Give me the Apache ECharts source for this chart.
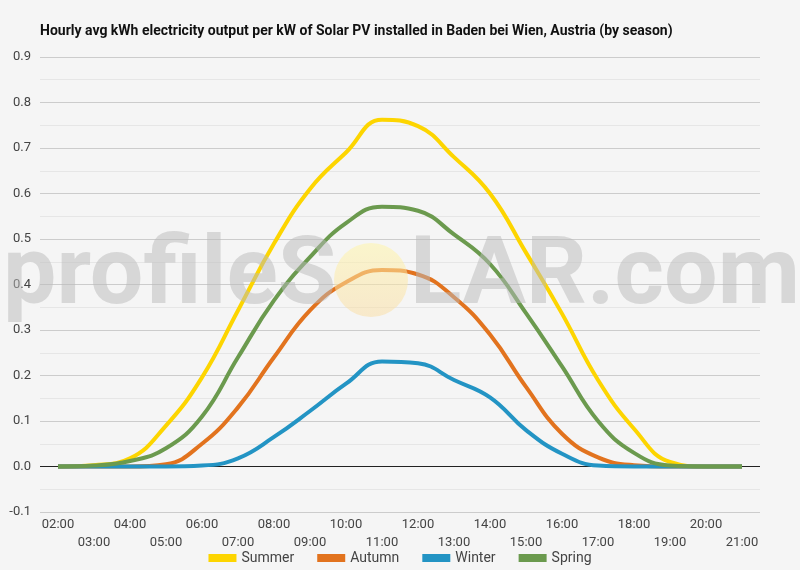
<!DOCTYPE html>
<html>
<head>
<meta charset="utf-8">
<script src="https://cdn.jsdelivr.net/npm/echarts@6/dist/echarts.min.js"></script>
<style>
  html, body { margin: 0; padding: 0; background: #f5f5f5; }
  #chart { width: 800px; height: 570px; }
</style>
</head>
<body>
<div id="chart"></div>
<script>
// hours on the x axis
const hours = ['02:00', '03:00', '04:00', '05:00', '06:00', '07:00', '08:00', '09:00', '10:00', '11:00',
  '12:00', '13:00', '14:00', '15:00', '16:00', '17:00', '18:00', '19:00', '20:00', '21:00']

// hourly avg kWh per kW
const summer = [0, 0.003, 0.018, 0.09, 0.196, 0.343, 0.49, 0.61, 0.69, 0.762,
  0.748, 0.68, 0.60, 0.47, 0.336, 0.19, 0.083, 0.01, 0, 0]
const autumn = [0, 0, 0, 0.005, 0.05, 0.13, 0.24, 0.343, 0.405, 0.432,
  0.422, 0.372, 0.29, 0.175, 0.072, 0.02, 0.003, 0, 0, 0]
const winter = [0, 0, 0, 0, 0.002, 0.018, 0.065, 0.122, 0.182, 0.231,
  0.227, 0.19, 0.152, 0.08, 0.028, 0.002, 0, 0, 0, 0]
const spring = [0, 0.002, 0.012, 0.04, 0.11, 0.24, 0.365, 0.46, 0.535, 0.571,
  0.562, 0.51, 0.445, 0.337, 0.22, 0.10, 0.03, 0.002, 0, 0]

const seriesNames = ['Summer', 'Autumn', 'Winter', 'Spring']
const seriesColors = ['#fdd500', '#e2731e', '#2394c4', '#6b9a4e']

const chart = echarts.init(document.getElementById('chart'))

const font = 'Roboto, "Noto Sans", sans-serif'

function makeSeries(name, data, color, idx) {
  const s = {
    name: name,
    type: 'line',
    data: data,
    smooth: 0.45,
    symbol: 'none',
    lineStyle: { width: 4, color: color },
    itemStyle: { color: color },
    z: 3 + idx,
  }
  // zero line (drawn once)
  if (idx === 0) {
    s.markLine = {
      silent: true,
      symbol: 'none',
      label: { show: false },
      lineStyle: { color: '#222', width: 1, type: 'solid' },
      data: [{ yAxis: 0 }],
      z: 2,
    }
  }
  return s
}

const allData = [summer, autumn, winter, spring]

chart.setOption({
  backgroundColor: '#f5f5f5',
  animation: false,
  title: {
    text: 'Hourly avg kWh electricity output per kW of Solar PV installed in Baden bei Wien, Austria (by season)',
    left: 35,
    top: 19,
    textStyle: { fontFamily: font, fontSize: 14, fontWeight: 'bold', color: '#111' },
  },
  legend: {
    top: 546,
    left: 'center',
    itemWidth: 28,
    itemHeight: 8,
    itemGap: 23,
    icon: 'rect',
    textStyle: { fontFamily: font, fontSize: 14, color: '#444' },
    data: seriesNames,
  },
  grid: { left: 40, right: 40, top: 57, bottom: 58 },
  xAxis: {
    type: 'category',
    data: hours,
    boundaryGap: true,
    axisLine: { show: false },
    axisTick: { show: false },
    axisLabel: {
      interval: 0,
      margin: 4,
      fontFamily: font,
      fontSize: 13,
      color: '#444',
      lineHeight: 18,
      formatter: (v, i) => (i % 2 === 1 ? '\n' + v : v),
    },
  },
  yAxis: {
    type: 'value',
    min: -0.1,
    max: 0.9,
    interval: 0.1,
    axisLine: { show: false },
    axisTick: { show: false },
    axisLabel: {
      margin: 9,
      fontFamily: font,
      fontSize: 13,
      color: '#444',
      formatter: v => v.toFixed(1),
    },
    splitLine: { lineStyle: { color: '#cccccc', width: 1 } },
    minorTick: { show: false, splitNumber: 2 },
    minorSplitLine: { show: true, lineStyle: { color: '#e6e6e6', width: 1 } },
  },
  series: seriesNames.map((n, i) => makeSeries(n, allData[i], seriesColors[i], i)),
  graphic: [
    {
      type: 'circle',
      shape: { cx: 371, cy: 280, r: 37 },
      style: {
        fill: {
          type: 'linear', x: 0, y: 0, x2: 0, y2: 1,
          colorStops: [
            { offset: 0, color: 'rgba(255,245,170,0.55)' },
            { offset: 1, color: 'rgba(250,220,160,0.5)' },
          ],
        },
      },
      z: 20,
      silent: true,
    },
    {
      type: 'text',
      left: 3,
      top: 232,
      style: {
        text: 'profileS',
        font: 'bold 95px Roboto, sans-serif',
        fill: 'rgba(185,185,185,0.5)',
      },
      z: 20,
      silent: true,
    },
    {
      type: 'text',
      left: 410,
      top: 232,
      style: {
        text: 'LAR.com',
        font: 'bold 95px Roboto, sans-serif',
        fill: 'rgba(185,185,185,0.5)',
      },
      z: 20,
      silent: true,
    },
  ],
})
</script>
</body>
</html>
